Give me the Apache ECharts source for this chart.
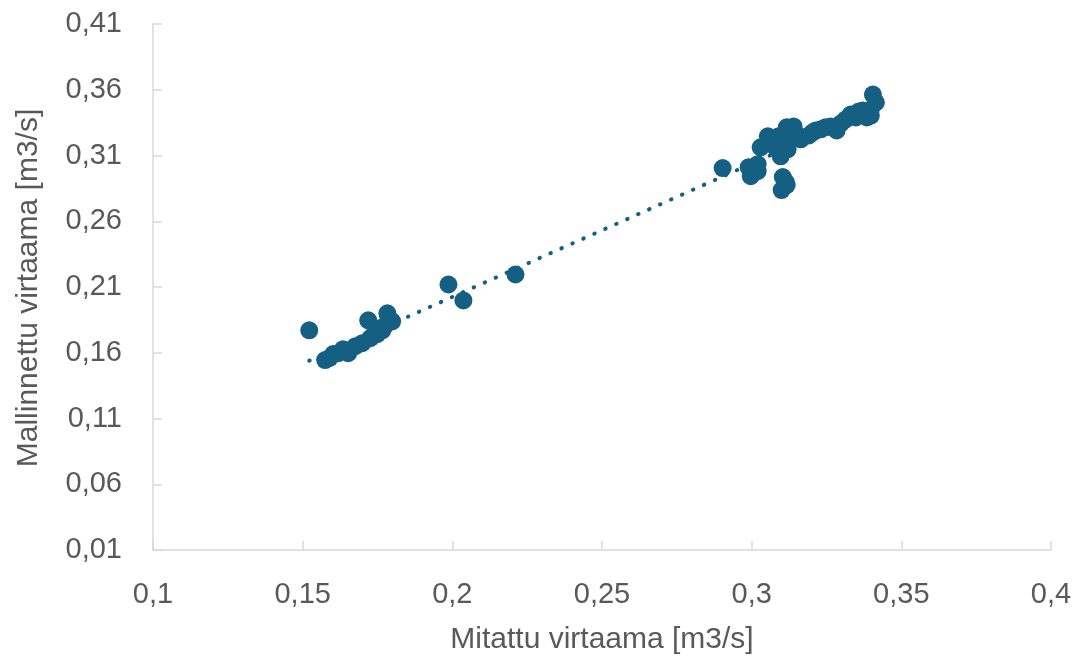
<!DOCTYPE html>
<html>
<head>
<meta charset="utf-8">
<script src="https://cdn.jsdelivr.net/npm/echarts@6/dist/echarts.min.js"></script>
<style>
  html, body { margin: 0; padding: 0; background: #fff; }
  #chart { width: 1077px; height: 660px; }
</style>
</head>
<body>
<div id="chart"></div>
<script>
// Mitattu (measured) and mallinnettu (modelled) flow, m3/s
const measured = [
  0.1522, 0.1575, 0.1590, 0.1602, 0.1619, 0.1635, 0.1652, 0.1676, 0.1699, 0.1726,
  0.1719, 0.1749, 0.1766, 0.1776, 0.1783, 0.1793, 0.1759, 0.1736, 0.1799,
  0.1987, 0.2037, 0.2211,
  0.2903, 0.2990, 0.2997, 0.3020, 0.3030, 0.3054, 0.3090, 0.3117, 0.3140, 0.3120,
  0.3097, 0.3104, 0.3164, 0.3191, 0.3214, 0.3104, 0.3100, 0.3117, 0.3204, 0.3247,
  0.3264, 0.3284, 0.3314, 0.3331, 0.3358, 0.3378, 0.3398, 0.3405, 0.3415, 0.3398,
  0.3348, 0.3080, 0.3130, 0.3150, 0.3231, 0.3298, 0.3371, 0.3385, 0.3020, 0.3114
];
const modelled = [
  0.1771, 0.1544, 0.1560, 0.1590, 0.1597, 0.1627, 0.1597, 0.1650, 0.1673, 0.1711,
  0.1847, 0.1741, 0.1771, 0.1809, 0.1900, 0.1847, 0.1786, 0.1733, 0.1839,
  0.2119, 0.1998, 0.2195,
  0.3004, 0.3011, 0.2943, 0.2981, 0.3162, 0.3246, 0.3246, 0.3314, 0.3321, 0.3147,
  0.3094, 0.3185, 0.3223, 0.3253, 0.3291, 0.2936, 0.2837, 0.2875, 0.3276, 0.3314,
  0.3321, 0.3291, 0.3374, 0.3412, 0.3435, 0.3427, 0.3450, 0.3563, 0.3503, 0.3404,
  0.3389, 0.3162, 0.3223, 0.3261, 0.3299, 0.3344, 0.3442, 0.3389, 0.3034, 0.2898
];

// Axis tick values
const xTicks = [0.1, 0.15, 0.2, 0.25, 0.3, 0.35, 0.4];
const yTicks = [0.01, 0.06, 0.11, 0.16, 0.21, 0.26, 0.31, 0.36, 0.41];

const points = measured.map((x, i) => [x, modelled[i]]);

// Linear least-squares trendline over the measured range
const n = measured.length;
const mx = measured.reduce((a, b) => a + b, 0) / n;
const my = modelled.reduce((a, b) => a + b, 0) / n;
let sxy = 0, sxx = 0;
for (let i = 0; i < n; i++) {
  sxy += (measured[i] - mx) * (modelled[i] - my);
  sxx += (measured[i] - mx) * (measured[i] - mx);
}
const slope = sxy / sxx;
const intercept = my - slope * mx;
const xMin = Math.min(...measured);
const xMax = Math.max(...measured);
const trend = [[xMin, intercept + slope * xMin], [xMax, intercept + slope * xMax]];

const fmt = v => String(+v.toFixed(2)).replace('.', ',');
const color = '#156082';
const gridColor = '#d9d9d9';
const textColor = '#595959';
const font = 'Liberation Sans, Arial, sans-serif';
const fontSize = 29;
const titleSize = 30;

const chart = echarts.init(document.getElementById('chart'));
chart.setOption({
  animation: false,
  backgroundColor: '#ffffff',
  grid: { left: 153, right: 26, top: 24, bottom: 107, containLabel: false },
  xAxis: {
    type: 'value',
    min: 0.1,
    max: 0.4,
    splitLine: { show: false },
    axisLine: { show: true, onZero: false, lineStyle: { color: gridColor, width: 1.5 } },
    axisTick: { show: true, inside: true, length: 9, customValues: xTicks, lineStyle: { color: gridColor, width: 1.5 } },
    axisLabel: { customValues: xTicks, formatter: fmt, color: textColor, fontSize: fontSize, fontFamily: font, margin: 30 },
    name: 'Mitattu virtaama [m3/s]',
    nameLocation: 'middle',
    nameGap: 75,
    nameTextStyle: { color: textColor, fontSize: titleSize, fontFamily: font }
  },
  yAxis: {
    type: 'value',
    min: 0.01,
    max: 0.41,
    splitLine: { show: false },
    axisLine: { show: true, onZero: false, lineStyle: { color: gridColor, width: 1.5 } },
    axisTick: { show: true, inside: true, length: 9, customValues: yTicks, lineStyle: { color: gridColor, width: 1.5 } },
    axisLabel: { customValues: yTicks, formatter: fmt, color: textColor, fontSize: fontSize, fontFamily: font, margin: 31 }
  },
  graphic: [{
    type: 'text',
    x: 29,
    y: 288,
    rotation: Math.PI / 2,
    style: {
      text: 'Mallinnettu virtaama [m3/s]',
      fill: textColor,
      fontSize: titleSize,
      fontFamily: font,
      align: 'center',
      verticalAlign: 'middle'
    }
  }],
  series: [
    {
      type: 'scatter',
      data: points,
      symbol: 'circle',
      symbolSize: 18,
      itemStyle: { color: color, opacity: 1 },
      z: 2
    },
    {
      type: 'line',
      data: trend,
      symbol: 'none',
      lineStyle: { color: color, width: 4, type: [0.5, 11.5], cap: 'round' },
      z: 3
    }
  ]
});
</script>
</body>
</html>
